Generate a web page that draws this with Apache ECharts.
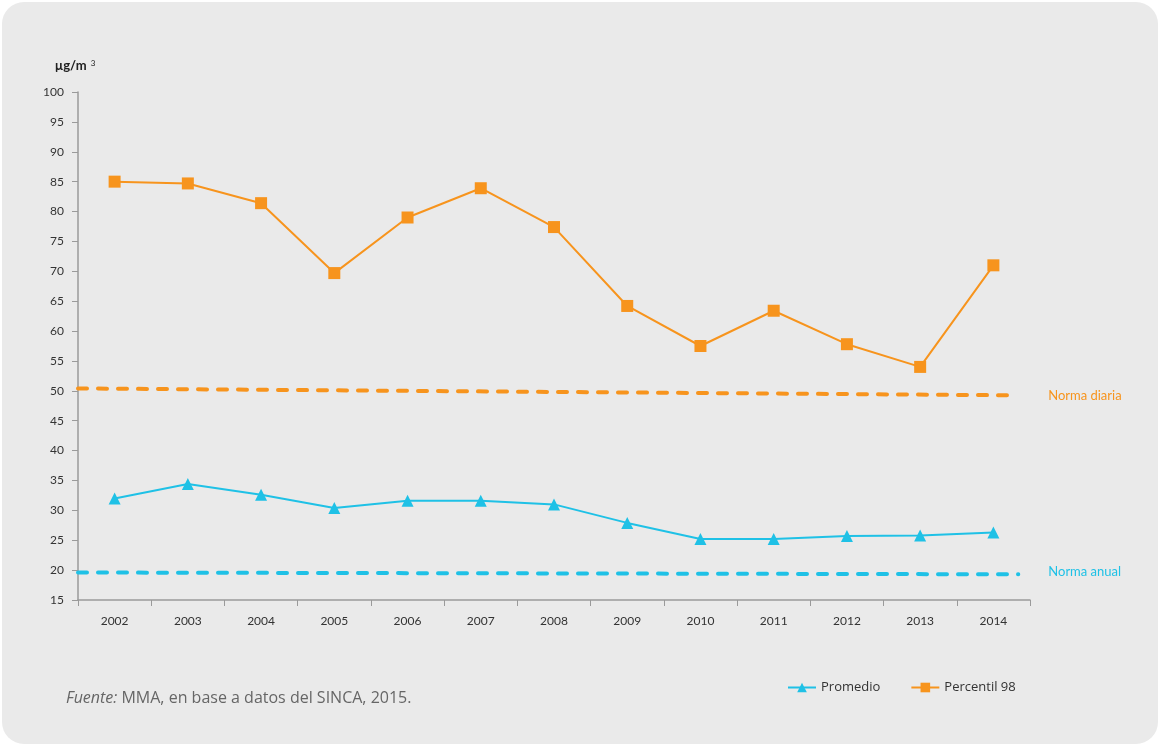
<!DOCTYPE html>
<html>
<head>
<meta charset="utf-8">
<script src="https://cdn.jsdelivr.net/npm/echarts@6/dist/echarts.min.js"></script>
<style>
  html, body { margin: 0; padding: 0; background: #ffffff; }
  #card { position: absolute; left: 2px; top: 2px; width: 1156px; height: 742px; background: #eaeaea; border-radius: 22px; }
  #chart { position: absolute; left: 0; top: 0; width: 1159px; height: 745px; }
</style>
</head>
<body>
<div id="card"></div>
<div id="chart"></div>
<script>
const years = ['2002','2003','2004','2005','2006','2007','2008','2009','2010','2011','2012','2013','2014'];
const promedio = [32.0, 34.4, 32.6, 30.4, 31.6, 31.6, 31.0, 27.9, 25.2, 25.2, 25.7, 25.8, 26.3];
const percentil98 = [85.0, 84.7, 81.4, 69.7, 79.0, 83.9, 77.4, 64.2, 57.5, 63.4, 57.8, 54.0, 71.0];
const normaDiaria = [50.4, 49.25];   // start and end of the daily norm line
const normaAnual = [19.6, 19.3];     // start and end of the annual norm line
const normaDiariaSpan = [0, 12.77];  // extent along the category bands
const normaAnualSpan = [0, 12.84];
const yTicks = { min: 15, max: 100, interval: 5 };

const orange = '#f7941d';
const blue = '#1fc1e6';
const font = 'Lato, "Open Sans", sans-serif';
const font2 = '"Open Sans", Lato, sans-serif';

const chart = echarts.init(document.getElementById('chart'), null, { renderer: 'canvas' });
chart.setOption({
  backgroundColor: 'transparent',
  animation: false,
  textStyle: { fontFamily: font },
  grid: { left: 78, right: 129, top: 92, bottom: 145 },
  xAxis: [{
    type: 'category',
    data: years,
    boundaryGap: true,
    axisLine: { lineStyle: { color: '#9a9a9a', width: 1.5 } },
    axisTick: { show: true, inside: false, length: 6, lineStyle: { color: '#9a9a9a' } },
    axisLabel: { color: '#333', fontSize: 12, margin: 15, fontFamily: font },
    splitLine: { show: false }
  }, {
    type: 'value',
    min: 0, max: years.length,
    show: false
  }],
  yAxis: {
    type: 'value',
    min: yTicks.min, max: yTicks.max, interval: yTicks.interval,
    name: '{a|µg/m}{b|3}',
    nameLocation: 'end',
    nameGap: 20,
    nameTextStyle: {
      align: 'center',
      padding: [0, 0, 0, -6],
      rich: {
        a: { fontSize: 13, color: '#222', fontWeight: 'bold', fontFamily: font },
        b: { fontSize: 8, color: '#222', fontFamily: font, verticalAlign: 'top', padding: [0, 0, 4, 4] }
      }
    },
    axisLine: { show: true, lineStyle: { color: '#9a9a9a', width: 1.5 } },
    axisTick: { show: true, inside: false, length: 6, lineStyle: { color: '#9a9a9a' } },
    axisLabel: { color: '#333', fontSize: 12, margin: 14, fontFamily: font },
    splitLine: { show: false }
  },
  legend: {
    data: ['Promedio', 'Percentil 98'],
    left: 782, top: 676,
    itemWidth: 28, itemHeight: 12,
    itemGap: 30,
    textStyle: { color: '#333', fontSize: 13, fontFamily: font2 }
  },
  graphic: [{
    type: 'text',
    left: 66, top: 690,
    style: {
      text: '{i|Fuente:} MMA, en base a datos del SINCA, 2015.',
      fill: '#666',
      font: '16px ' + font2,
      rich: {
        i: { fontStyle: 'italic', fontSize: 16, fill: '#666', fontFamily: font2 }
      }
    }
  }],
  series: [{
    name: 'Norma diaria',
    type: 'line',
    xAxisIndex: 1,
    data: normaDiariaSpan.map((x, i) => [x, normaDiaria[i]]),
    symbol: 'none',
    silent: true,
    lineStyle: { color: orange, width: 4, type: [9, 11], cap: 'round' },
    endLabel: { show: true, formatter: 'Norma diaria', color: orange, fontSize: 13, distance: 35, fontFamily: font, offset: [0, 1] },
    z: 1
  }, {
    name: 'Norma anual',
    type: 'line',
    xAxisIndex: 1,
    data: normaAnualSpan.map((x, i) => [x, normaAnual[i]]),
    symbol: 'none',
    silent: true,
    lineStyle: { color: blue, width: 4, type: [9, 11], cap: 'round' },
    endLabel: { show: true, formatter: 'Norma anual', color: blue, fontSize: 13, distance: 30, fontFamily: font, offset: [0, -2] },
    z: 1
  }, {
    name: 'Promedio',
    type: 'line',
    data: promedio,
    symbol: 'triangle',
    symbolSize: 12,
    itemStyle: { color: blue },
    lineStyle: { color: blue, width: 2 },
    z: 3
  }, {
    name: 'Percentil 98',
    type: 'line',
    data: percentil98,
    symbol: 'rect',
    symbolSize: 12,
    itemStyle: { color: orange },
    lineStyle: { color: orange, width: 2 },
    z: 3
  }]
});
</script>
</body>
</html>
